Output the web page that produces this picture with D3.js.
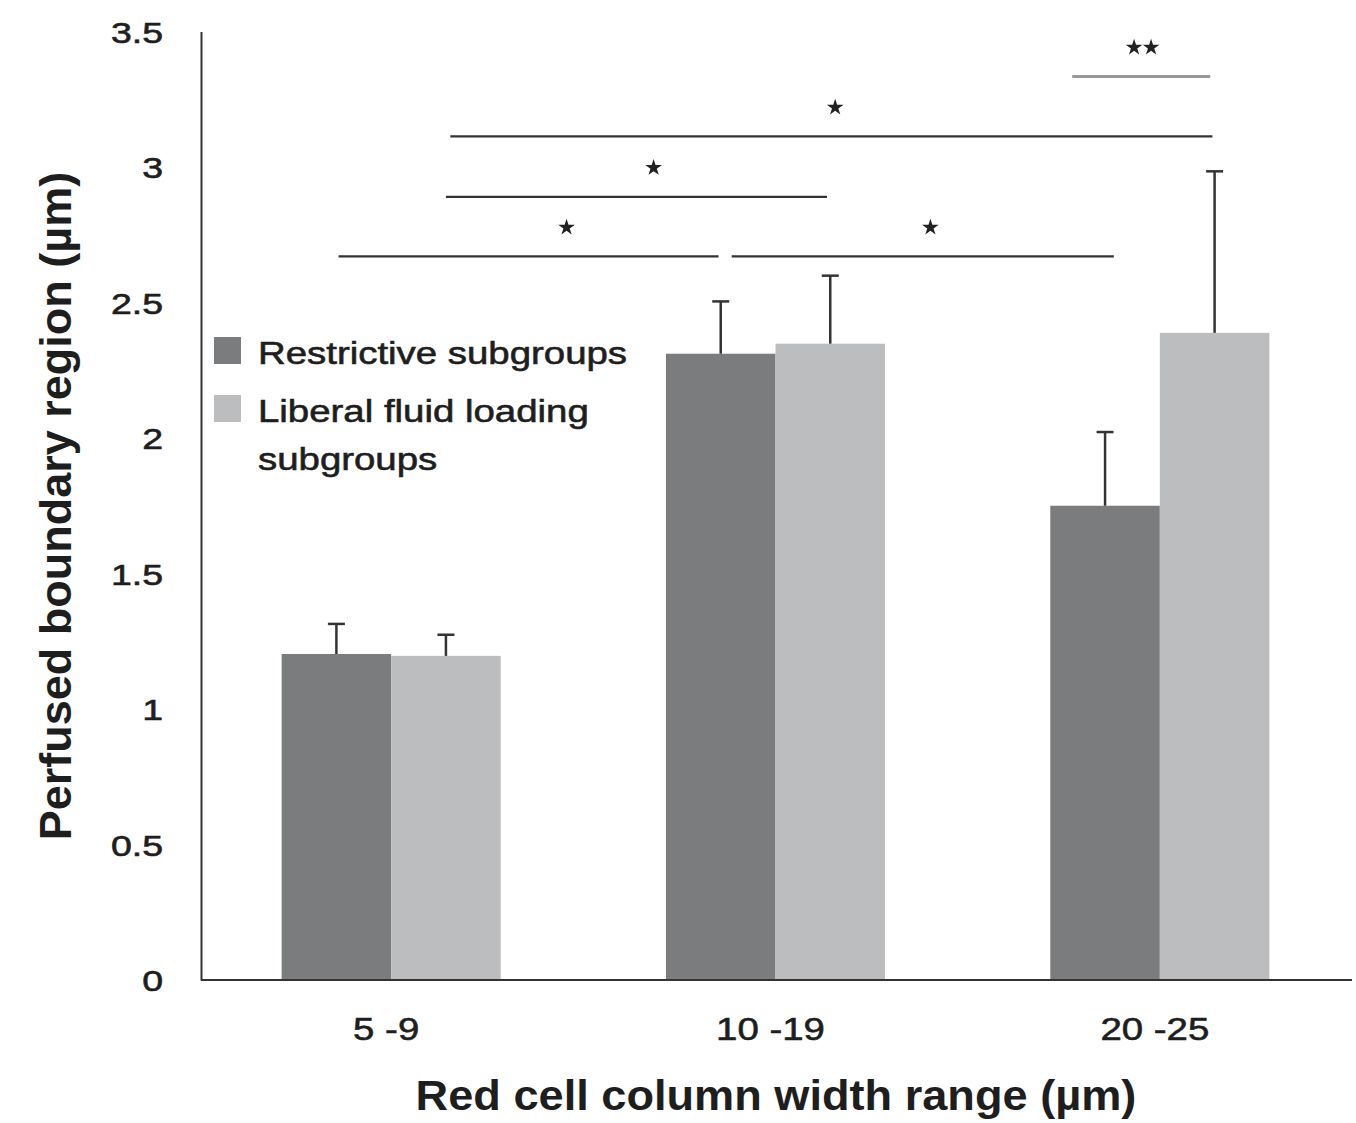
<!DOCTYPE html>
<html>
<head>
<meta charset="utf-8">
<style>
    body { margin: 0; background: #fff; }
    svg { display: block; font-family: "Liberation Sans", Arial, Helvetica, sans-serif; }
    .axis .domain { stroke: #333; stroke-width: 2px; }
    .axis text, .legend text { fill: #1e1e1e; stroke: #1e1e1e; stroke-width: 0.6px; }
</style>
</head>
<body>
<script src="https://cdn.jsdelivr.net/npm/d3@7/dist/d3.min.js"></script>
<script>
    // values
    var categories = ["5 -9", "10 -19", "20 -25"];
    var seriesNames = ["Restrictive subgroups", "Liberal fluid loading subgroups"];
    var restrictive = [1.203, 2.311, 1.750];
    var restrictiveErr = [0.111, 0.193, 0.272];
    var liberal = [1.196, 2.348, 2.388];
    var liberalErr = [0.078, 0.251, 0.596];
    var yTicks = [0, 0.5, 1, 1.5, 2, 2.5, 3, 3.5];

    // significance brackets: ends are [category index, place inside the group 0..1], level in µm,
    // starAt = where the star(s) sit along the bracket
    var brackets = [
        { from: [0, 0.26], to: [1, 0.24], level: 2.670, stars: 1, starAt: 0.60, tone: "dark" },
        { from: [1, 0.30], to: [2, 0.29], level: 2.670, stars: 1, starAt: 0.52, tone: "dark" },
        { from: [0, 0.75], to: [1, 0.735], level: 2.890, stars: 1, starAt: 0.545, tone: "dark" },
        { from: [0, 0.77], to: [2, 0.74], level: 3.113, stars: 1, starAt: 0.505, tone: "dark" },
        { from: [2, 0.10], to: [2, 0.73], level: 3.334, stars: 2, starAt: 0.51, tone: "light" }
    ];

    var W = 1356, H = 1123;
    var colors = ["#7b7c7e", "#bcbdbf"];

    var svg = d3.select("body").append("svg")
        .attr("width", W)
        .attr("height", H);

    // scales
    var x = d3.scaleBand().domain(categories)
        .range([199, 1352])
        .paddingInner(0.43)
        .paddingOuter(0.215);
    var xs = d3.scaleBand().domain([0, 1]).range([0, x.bandwidth()]);
    var y = d3.scaleLinear().domain([0, 3.5]).range([980, 31.5]);

    var rows = categories.map(function (c, i) {
        return [
            { cat: c, s: 0, v: restrictive[i], e: restrictiveErr[i] },
            { cat: c, s: 1, v: liberal[i], e: liberalErr[i] }
        ];
    });

    // bars
    var groups = svg.selectAll(".grp")
        .data(rows)
        .enter().append("g")
        .attr("class", "grp")
        .attr("transform", function (d) { return "translate(" + x(d[0].cat) + ",0)"; });

    groups.selectAll("rect")
        .data(function (d) { return d; })
        .enter().append("rect")
        .attr("x", function (d) { return xs(d.s); })
        .attr("width", xs.bandwidth())
        .attr("y", function (d) { return y(d.v); })
        .attr("height", function (d) { return y(0) - y(d.v); })
        .style("fill", function (d) { return colors[d.s]; });

    // error bars (upper whisker only)
    var cap = 8.5;
    var err = groups.selectAll(".err")
        .data(function (d) { return d; })
        .enter().append("g")
        .attr("class", "err")
        .style("stroke", "#333")
        .style("stroke-width", 2.5);
    err.append("line")
        .attr("x1", function (d) { return xs(d.s) + xs.bandwidth() / 2; })
        .attr("x2", function (d) { return xs(d.s) + xs.bandwidth() / 2; })
        .attr("y1", function (d) { return y(d.v); })
        .attr("y2", function (d) { return y(d.v + d.e); });
    err.append("line")
        .attr("x1", function (d) { return xs(d.s) + xs.bandwidth() / 2 - cap; })
        .attr("x2", function (d) { return xs(d.s) + xs.bandwidth() / 2 + cap; })
        .attr("y1", function (d) { return y(d.v + d.e); })
        .attr("y2", function (d) { return y(d.v + d.e); });

    // axes
    var yAxis = svg.append("g")
        .attr("class", "axis")
        .attr("transform", "translate(201,0)")
        .call(d3.axisLeft(y).tickValues(yTicks).tickSize(0).tickSizeOuter(0).tickFormat(d3.format("")));
    yAxis.selectAll(".tick text")
        .attr("x", 0)
        .attr("dy", "0.36em")
        .attr("transform", "translate(-38,0) scale(1.25,1)")
        .style("font-size", "30px");

    var xAxis = svg.append("g")
        .attr("class", "axis")
        .attr("transform", "translate(0,980)")
        .call(d3.axisBottom(x).tickSize(0).tickSizeOuter(0));
    xAxis.select(".domain").attr("d", "M201,0H1352");
    xAxis.selectAll(".tick text")
        .attr("y", 0)
        .attr("dy", 0)
        .attr("transform", "translate(-5,60) scale(1.2,1)")
        .style("font-size", "32px");

    // axis titles
    svg.append("text")
        .attr("transform", "translate(776,1110) scale(1.075,1)")
        .attr("text-anchor", "middle")
        .style("font-size", "42px")
        .style("font-weight", "bold")
        .style("fill", "#1e1e1e")
        .text("Red cell column width range (µm)");

    svg.append("text")
        .attr("transform", "translate(71,506) rotate(-90)")
        .attr("text-anchor", "middle")
        .style("font-size", "45px")
        .style("font-weight", "bold")
        .style("fill", "#1e1e1e")
        .text("Perfused boundary region (µm)");

    // significance brackets
    function endX(e) {
        return x(categories[e[0]]) + e[1] * x.bandwidth();
    }
    var sig = svg.selectAll(".sig")
        .data(brackets)
        .enter().append("g")
        .attr("class", "sig");
    sig.append("line")
        .attr("x1", function (d) { return endX(d.from); })
        .attr("x2", function (d) { return endX(d.to); })
        .attr("y1", function (d) { return y(d.level); })
        .attr("y2", function (d) { return y(d.level); })
        .style("stroke", function (d) { return d.tone == "light" ? "#999" : "#333"; })
        .style("stroke-width", function (d) { return d.tone == "light" ? 3 : 2.2; });

    var star = d3.symbol().type(d3.symbolStar).size(85);
    sig.each(function (d) {
        var x0 = endX(d.from), x1 = endX(d.to);
        var cx = x0 + (x1 - x0) * d.starAt;
        for (var k = 0; k < d.stars; k++) {
            var off = (k - (d.stars - 1) / 2) * 17;
            d3.select(this).append("path")
                .attr("d", star)
                .attr("transform", "translate(" + (cx + off) + "," + (y(d.level) - 29) + ")")
                .style("fill", "#222");
        }
    });

    // legend
    var legendLines = [["Restrictive subgroups"], ["Liberal fluid loading", "subgroups"]];
    var legend = svg.selectAll(".legend")
        .data(seriesNames)
        .enter().append("g")
        .attr("class", "legend")
        .attr("transform", function (d, i) { return "translate(214," + (337 + i * 58) + ")"; });
    legend.append("rect")
        .attr("width", 27)
        .attr("height", 27)
        .style("fill", function (d, i) { return colors[i]; });
    legend.each(function (d, i) {
        var g = d3.select(this);
        legendLines[i].forEach(function (t, j) {
            g.append("text")
                .attr("transform", "translate(44," + (27 + j * 48) + ") scale(1.2,1)")
                .style("font-size", "32px")
                .text(t);
        });
    });
</script>
</body>
</html>
